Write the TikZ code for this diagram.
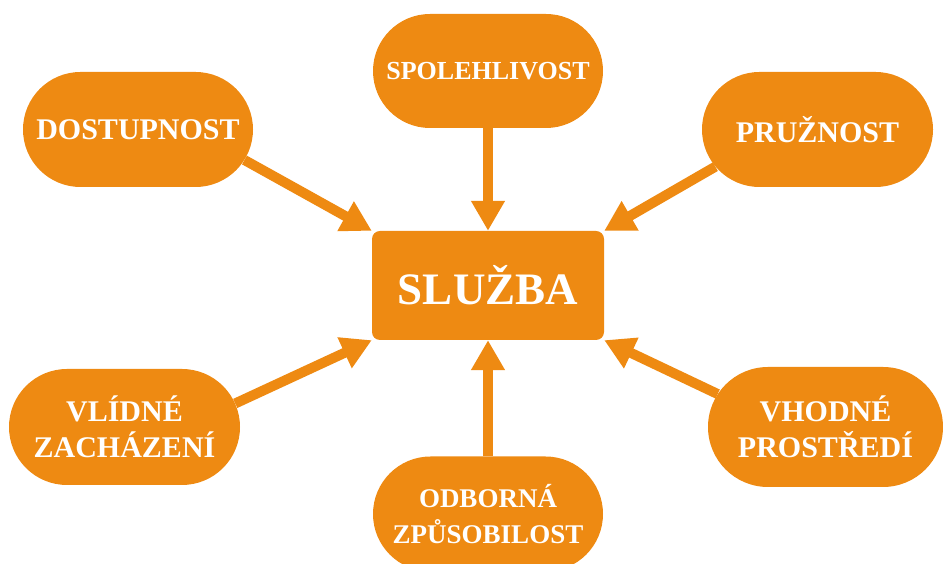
\documentclass[tikz,border=0pt]{standalone}
\usepackage{fontspec}
\setmainfont{Liberation Serif}
\usetikzlibrary{shapes.misc,arrows.meta}
\definecolor{svcorange}{RGB}{238,138,18}
\tikzset{
  pill/.style={rounded rectangle, fill=svcorange, text=white, inner sep=0pt,
    font=\bfseries\fontsize{30}{36}\selectfont, align=center},
  hub/.style={rectangle, rounded corners=8pt, fill=svcorange, text=white, inner sep=0pt,
    minimum width=232pt, minimum height=109pt, font=\bfseries\fontsize{45}{50}\selectfont},
  flow/.style={draw=svcorange, line width=10pt, -{Triangle[width=32pt,length=30pt]}}
}
\begin{document}
\begin{tikzpicture}[x=1pt,y=1pt]
\useasboundingbox (0,0) rectangle (943,564);
\node[hub] (slu) at (488,278.5) {SLUŽBA};
\node[pill, minimum width=230pt, minimum height=114pt, font=\bfseries\fontsize{26}{32}\selectfont] (spol) at (488,493) {SPOLEHLIVOST};
\node[pill, minimum width=230pt, minimum height=115pt] (dost) at (138,434.5) {DOSTUPNOST};
\node[pill, minimum width=231pt, minimum height=115pt] (pruz) at (817.5,434.5) {PRUŽNOST};
\node[pill, minimum width=231pt, minimum height=116pt] (vlid) at (124.5,137) {VLÍDNÉ\\ZACHÁZENÍ};
\node[pill, minimum width=230pt, minimum height=115pt, font=\bfseries\fontsize{27}{36}\selectfont] (odb) at (488,50) {ODBORNÁ\\ZPŮSOBILOST};
\node[pill, minimum width=235pt, minimum height=120pt] (vhod) at (825.5,137) {VHODNÉ\\PROSTŘEDÍ};
\draw[flow] (spol.south) -- (slu.north);
\draw[flow] (odb.north) -- (slu.south);
\draw[flow] (dost.-16) -- (slu.north west);
\draw[flow] (pruz.200) -- (slu.north east);
\draw[flow] (vlid.12) -- (slu.south west);
\draw[flow] (vhod.163) -- (slu.south east);
\end{tikzpicture}
\end{document}
